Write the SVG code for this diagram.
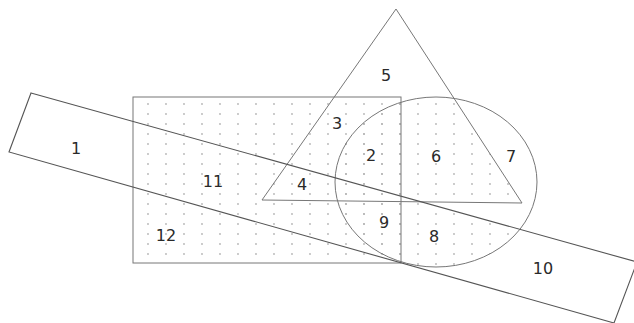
<svg xmlns="http://www.w3.org/2000/svg" width="634" height="323" viewBox="0 0 634 323">
  <style>
    .ln { fill: none; stroke: #777; stroke-width: 1; }
    .band { fill: none; stroke: #555; stroke-width: 1.1; }
    .lbl { font-family: "DejaVu Sans", "Liberation Sans", sans-serif; font-size: 16px; fill: #2a2a2a; text-anchor: middle; dominant-baseline: central; }
  </style>
  <defs>
    <pattern id="dots" x="0" y="0" width="18" height="10" patternUnits="userSpaceOnUse">
      <circle cx="4" cy="4" r="0.9" fill="#b4b4b4"/>
    </pattern>
    <clipPath id="triBand">
      <polygon points="396,9 262,200 522,203"/>
      <polygon points="31,93 637,262 614,323 9,152"/>
    </clipPath>
  </defs>
  <rect width="634" height="323" fill="#fff"/>
  <g id="dotted">
    <rect x="133" y="97" width="268" height="166" fill="url(#dots)"/>
    <ellipse cx="436" cy="182" rx="101" ry="85" fill="url(#dots)" clip-path="url(#triBand)"/>
  </g>
  <g id="rectangle">
    <rect class="ln" x="133" y="97" width="268" height="166"/>
  </g>
  <g id="circle">
    <ellipse class="ln" cx="436" cy="182" rx="101" ry="85"/>
  </g>
  <g id="triangle">
    <polygon class="ln" points="396,9 262,200 522,203"/>
  </g>
  <g id="band">
    <polygon class="band" points="31,93 637,262 614,323 9,152"/>
  </g>
  <g id="labels">
    <text class="lbl" x="76" y="148">1</text>
    <text class="lbl" x="371" y="155">2</text>
    <text class="lbl" x="337" y="123">3</text>
    <text class="lbl" x="302" y="184">4</text>
    <text class="lbl" x="386" y="75">5</text>
    <text class="lbl" x="436" y="156">6</text>
    <text class="lbl" x="511" y="156">7</text>
    <text class="lbl" x="434" y="236">8</text>
    <text class="lbl" x="384" y="222">9</text>
    <text class="lbl" x="543" y="268">10</text>
    <text class="lbl" x="213" y="181">11</text>
    <text class="lbl" x="166" y="235">12</text>
  </g>
</svg>
